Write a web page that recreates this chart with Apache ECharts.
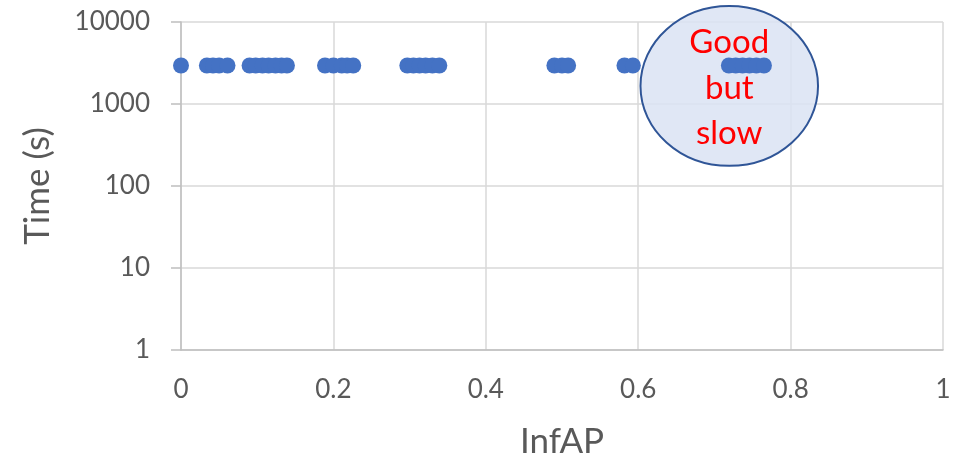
<!DOCTYPE html>
<html>
<head>
<meta charset="utf-8">
<script src="https://cdn.jsdelivr.net/npm/echarts@6/dist/echarts.min.js"></script>
<style>html,body{margin:0;padding:0;background:#fff;}#c{width:974px;height:463px;}</style>
</head>
<body>
<div id="c"></div>
<script>
// Data
const infAP = [0,
  0.034, 0.042, 0.05, 0.061,
  0.090, 0.098, 0.107, 0.115, 0.124, 0.132, 0.139,
  0.189, 0.200, 0.211, 0.218, 0.226,
  0.297, 0.305, 0.313, 0.321, 0.330, 0.339,
  0.490, 0.500, 0.508,
  0.582, 0.593,
  0.719, 0.728, 0.737, 0.746, 0.755, 0.765];
const timeS = [2950,
  2950, 2950, 2950, 2950,
  2950, 2950, 2950, 2950, 2950, 2950, 2950,
  2950, 2950, 2950, 2950, 2950,
  2950, 2950, 2950, 2950, 2950, 2950,
  2950, 2950, 2950,
  2950, 2950,
  2950, 2950, 2950, 2950, 2950, 2950];
const xTicks = [0, 0.2, 0.4, 0.6, 0.8, 1];
const yTicks = [1, 10, 100, 1000, 10000];
// annotation ellipse bounds in data space: [xLeft, xRight], [yTop, yBottom]
const ellipseX = [0.603, 0.836];
const ellipseY = [15660, 176];
const annotationText = ['Good', 'but', 'slow'];

const FONT = 'Lato, Calibri, Carlito, sans-serif';
const TXT = '#595959';
const chart = echarts.init(document.getElementById('c'));
const points = infAP.map((x, i) => [x, timeS[i]]);

chart.setOption({
  animation: false,
  backgroundColor: '#fff',
  grid: { left: 181, right: 31, top: 22, bottom: 113, outerBoundsMode: 'none', containLabel: false },
  xAxis: {
    type: 'value', min: xTicks[0], max: xTicks[xTicks.length - 1], interval: 0.2,
    name: 'InfAP', nameLocation: 'middle', nameGap: 74,
    nameTextStyle: { fontFamily: FONT, fontSize: 35, color: TXT },
    axisLine: { show: true, onZero: false, lineStyle: { color: '#bfbfbf', width: 1.5 } },
    axisTick: { show: false },
    axisLabel: { fontFamily: FONT, fontSize: 26, color: TXT, margin: 27,
      formatter: v => String(+v.toFixed(1)) },
    splitLine: { show: true, lineStyle: { color: '#d9d9d9', width: 1.5 } }
  },
  yAxis: {
    type: 'log', logBase: 10, min: yTicks[0], max: yTicks[yTicks.length - 1],
    name: 'Time (s)', nameLocation: 'middle', nameGap: 126,
    nameTextStyle: { fontFamily: FONT, fontSize: 35, color: TXT },
    axisLine: { show: true, onZero: false, lineStyle: { color: '#bfbfbf', width: 1.5 } },
    axisTick: { show: true, length: 10, lineStyle: { color: '#bfbfbf', width: 1.5 } },
    axisLabel: { fontFamily: FONT, fontSize: 26, color: TXT, margin: 31,
      formatter: v => String(Math.round(v)) },
    splitLine: { show: true, lineStyle: { color: '#d9d9d9', width: 1.5 } }
  },
  series: [{
    type: 'scatter', data: points, symbolSize: 16, z: 5,
    itemStyle: { color: '#4472c4', opacity: 1 }
  }]
});

const p1 = chart.convertToPixel({ gridIndex: 0 }, [ellipseX[0], ellipseY[0]]);
const p2 = chart.convertToPixel({ gridIndex: 0 }, [ellipseX[1], ellipseY[1]]);
const cx = (p1[0] + p2[0]) / 2, cy = (p1[1] + p2[1]) / 2;
chart.setOption({
  graphic: [
    { type: 'ellipse', z: 1, silent: true,
      shape: { cx: cx, cy: cy, rx: Math.abs(p2[0] - p1[0]) / 2, ry: Math.abs(p2[1] - p1[1]) / 2 },
      style: { fill: 'rgba(218,227,243,0.85)', stroke: '#2f5597', lineWidth: 2 } },
    { type: 'text', z: 10, silent: true, x: cx, y: cy + 2,
      style: { text: annotationText.join('\n'), fill: '#ff0000', fontFamily: FONT, fontSize: 33,
        lineHeight: 45.5, align: 'center', verticalAlign: 'middle' } }
  ]
});
</script>
</body>
</html>
